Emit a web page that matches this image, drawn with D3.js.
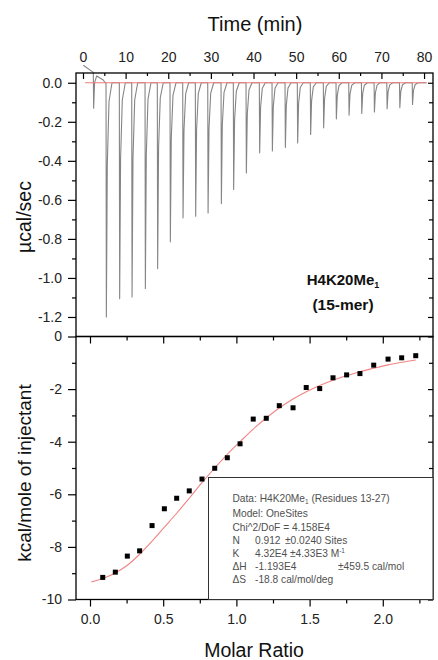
<!DOCTYPE html>
<html>
<head>
<meta charset="utf-8">
<script src="https://cdn.jsdelivr.net/npm/d3@7"></script>
<style>
  body { margin: 0; background: #fff; }
  text { font-family: "Liberation Sans", Arial, Helvetica, sans-serif; }
</style>
</head>
<body>
<svg id="chart" width="438" height="660"></svg>
<script>
// ---- Raw thermogram: injection times (min) and peak heights (µcal/sec) ----
const injTimes = [2.42, 5.40, 8.52, 11.43, 14.55, 17.43, 20.41, 23.39, 26.35, 29.26,
                  32.38, 35.26, 38.24, 41.36, 44.34, 47.39, 50.27, 53.32, 56.37, 59.35,
                  62.33, 65.31, 68.28, 71.26, 74.24, 77.22];
const injPeaks = [-0.130, -1.200, -1.106, -1.097, -1.054, -0.952, -0.815, -0.692, -0.684, -0.667,
                  -0.619, -0.547, -0.462, -0.359, -0.350, -0.331, -0.308, -0.265, -0.231, -0.185,
                  -0.166, -0.157, -0.150, -0.133, -0.128, -0.111];
// initial baseline drift before the first full injection
const driftTimes  = [0.07, 2.42, 4.75, 5.20];
const driftValues = [0.090, 0.053, 0.014, 0.000];

// ---- Integrated heats per injection ----
const molarRatio = [0.087, 0.173, 0.255, 0.339, 0.424, 0.508, 0.592, 0.678, 0.765, 0.852,
                    0.938, 1.025, 1.115, 1.204, 1.293, 1.387, 1.477, 1.569, 1.660, 1.753,
                    1.844, 1.938, 2.036, 2.129, 2.225];
const heat = [-9.16, -8.96, -8.35, -8.15, -7.19, -6.55, -6.15, -5.87, -5.42, -5.01,
              -4.61, -4.08, -3.14, -3.11, -2.63, -2.71, -1.94, -1.98, -1.57, -1.46,
              -1.41, -1.09, -0.86, -0.81, -0.73];

// ---- One-site fit curve ----
const fitRatio = [0.01, 0.087, 0.173, 0.255, 0.339, 0.424, 0.508, 0.592, 0.678, 0.765,
                  0.852, 0.938, 1.025, 1.115, 1.204, 1.293, 1.387, 1.477, 1.569, 1.660,
                  1.753, 1.844, 1.938, 2.036, 2.129, 2.225];
const fitHeat  = [-9.33, -9.20, -8.99, -8.70, -8.28, -7.78, -7.25, -6.72, -6.15, -5.56,
                  -5.00, -4.48, -4.00, -3.52, -3.10, -2.72, -2.38, -2.10, -1.86, -1.66,
                  -1.49, -1.34, -1.21, -1.08, -0.98, -0.89];

// ---- Tick values ----
const timeTicks  = [0, 10, 20, 30, 40, 50, 60, 70, 80];
const timeMinor  = [5, 15, 25, 35, 45, 55, 65, 75];
const powerTicks = [0, -0.2, -0.4, -0.6, -0.8, -1.0, -1.2];
const powerMinor = [-0.1, -0.3, -0.5, -0.7, -0.9, -1.1];
const ratioTicks = [0, 0.5, 1.0, 1.5, 2.0];
const ratioMinor = [0.25, 0.75, 1.25, 1.75, 2.25];
const heatTicks  = [0, -2, -4, -6, -8, -10];
const heatMinor  = [-1, -3, -5, -7, -9];

// ---- Layout ----
const L = 76, R = 433, T1 = 73, MID = 336.5, B2 = 599.5;
const svg = d3.select("#chart");

const xTime  = d3.scaleLinear().domain([-1.64, 82.1]).range([L, R]);
const yPower = d3.scaleLinear().domain([0.05, -1.3]).range([T1, MID]);
const xRatio = d3.scaleLinear().domain([-0.0956, 2.343]).range([L, R]);
const yHeat  = d3.scaleLinear().domain([0, -10]).range([MID, B2]);

function styleAxis(g, fontSize) {
  g.select(".domain").remove();
  g.selectAll(".tick line").attr("stroke", "#000").attr("stroke-width", 1.2);
  g.selectAll(".tick text").attr("font-size", fontSize).attr("fill", "#222")
    .attr("font-family", "'Liberation Sans', Arial, sans-serif");
}
function addAxis(axis, tx, ty, fontSize) {
  const g = svg.append("g").attr("transform", `translate(${tx},${ty})`).call(axis);
  styleAxis(g, fontSize || 14);
  return g;
}
const noLabel = () => "";

// ---- Top panel: thermogram ----
const tracePts = [];
driftTimes.forEach((t, i) => {
  tracePts.push([t, driftValues[i]]);
  if (i === 1) {
    // small first injection riding on the drift
    const p = injPeaks[0];
    tracePts.push([t + 0.08, p], [t + 0.3, p * 0.3 + 0.04], [t + 0.8, 0.035]);
  }
});
injTimes.slice(1).forEach((t, j) => {
  const p = injPeaks[j + 1];
  tracePts.push([t, 0], [t + 0.08, p], [t + 0.3, p * 0.35], [t + 0.7, p * 0.08], [t + 1.4, 0]);
});
tracePts.push([80.6, 0]);

const traceLine = d3.line().x(d => xTime(d[0])).y(d => yPower(d[1]));
svg.append("path").datum(tracePts).attr("d", traceLine)
  .attr("fill", "none").attr("stroke", "#858585").attr("stroke-width", 1.1)
  .attr("stroke-linejoin", "round");

// fitted baseline
svg.append("path").datum([[0.5, 0], [80.5, 0]]).attr("d", traceLine)
  .attr("fill", "none").attr("stroke", "#f07a7a").attr("stroke-width", 1);

// frame
svg.append("rect").attr("x", L).attr("y", T1).attr("width", R - L).attr("height", MID - T1)
  .attr("fill", "none").attr("stroke", "#000").attr("stroke-width", 1.3);

// top time axis: labels outside, ticks inward
addAxis(d3.axisTop(xTime).tickValues(timeTicks).tickSizeInner(-6).tickSizeOuter(0).tickPadding(11)
  .tickFormat(d => String(d)), 0, T1);
addAxis(d3.axisTop(xTime).tickValues(timeMinor).tickSizeInner(-3).tickSizeOuter(0).tickFormat(noLabel), 0, T1);

// left power axis, ticks outward
addAxis(d3.axisLeft(yPower).tickValues(powerTicks).tickSizeInner(8).tickSizeOuter(0).tickPadding(6)
  .tickFormat(d => d.toFixed(1)), L, 0);
addAxis(d3.axisLeft(yPower).tickValues(powerMinor).tickSizeInner(4).tickSizeOuter(0).tickFormat(noLabel), L, 0);

// right power axis, ticks inward
addAxis(d3.axisRight(yPower).tickValues(powerTicks).tickSizeInner(-5).tickSizeOuter(0).tickFormat(noLabel), R, 0);
addAxis(d3.axisRight(yPower).tickValues(powerMinor).tickSizeInner(-4).tickSizeOuter(0).tickFormat(noLabel), R, 0);

// sample label
const lbl = svg.append("text").attr("x", 343).attr("y", 285).attr("text-anchor", "middle")
  .attr("font-size", 15).attr("font-weight", "bold").attr("fill", "#111");
lbl.append("tspan").text("H4K20Me");
lbl.append("tspan").attr("font-size", 9).attr("dy", 3).text("1");
svg.append("text").attr("x", 343).attr("y", 309.5).attr("text-anchor", "middle")
  .attr("font-size", 15.5).attr("font-weight", "bold").attr("fill", "#111").text("(15-mer)");

// ---- Bottom panel: integrated heats ----
svg.append("rect").attr("x", L).attr("y", MID).attr("width", R - L).attr("height", B2 - MID)
  .attr("fill", "none").attr("stroke", "#000").attr("stroke-width", 1.3);

const fitLine = d3.line().x((d, i) => xRatio(fitRatio[i])).y(d => yHeat(d)).curve(d3.curveMonotoneX);
svg.append("path").datum(fitHeat).attr("d", fitLine)
  .attr("fill", "none").attr("stroke", "#f28484").attr("stroke-width", 1.1);

svg.append("g").selectAll("rect").data(heat).join("rect")
  .attr("x", (d, i) => xRatio(molarRatio[i]) - 2.5)
  .attr("y", d => yHeat(d) - 2.5)
  .attr("width", 5).attr("height", 5).attr("fill", "#000");

// bottom ratio axis, ticks outward
addAxis(d3.axisBottom(xRatio).tickValues(ratioTicks).tickSizeInner(7).tickSizeOuter(0).tickPadding(8)
  .tickFormat(d => d.toFixed(1)), 0, B2);
addAxis(d3.axisBottom(xRatio).tickValues(ratioMinor).tickSizeInner(4).tickSizeOuter(0).tickFormat(noLabel), 0, B2);
// mirrored ratio ticks along the shared edge, pointing into the lower panel
addAxis(d3.axisTop(xRatio).tickValues(ratioTicks).tickSizeInner(-7).tickSizeOuter(0).tickFormat(noLabel), 0, MID);
addAxis(d3.axisTop(xRatio).tickValues(ratioMinor).tickSizeInner(-4).tickSizeOuter(0).tickFormat(noLabel), 0, MID);

// left heat axis, ticks outward
addAxis(d3.axisLeft(yHeat).tickValues(heatTicks).tickSizeInner(8).tickSizeOuter(0).tickPadding(6)
  .tickFormat(d => String(d)), L, 0);
addAxis(d3.axisLeft(yHeat).tickValues(heatMinor).tickSizeInner(4).tickSizeOuter(0).tickFormat(noLabel), L, 0);
// right heat axis, ticks inward
addAxis(d3.axisRight(yHeat).tickValues(heatTicks).tickSizeInner(-5).tickSizeOuter(0).tickFormat(noLabel), R, 0);
addAxis(d3.axisRight(yHeat).tickValues(heatMinor).tickSizeInner(-4).tickSizeOuter(0).tickFormat(noLabel), R, 0);

// ---- Fit results box ----
const boxX = 208.5, boxY = 477.5;
svg.append("rect").attr("x", boxX).attr("y", boxY).attr("width", R - boxX).attr("height", B2 - boxY)
  .attr("fill", "#fff").attr("stroke", "#333").attr("stroke-width", 1);

const fs = 10.2, col1 = 232.5, col2 = 255;
function boxText(x, y, s) {
  return svg.append("text").attr("x", x).attr("y", y).attr("font-size", fs).attr("fill", "#505050").text(s);
}
const t1 = svg.append("text").attr("x", col1).attr("y", 502).attr("font-size", fs).attr("fill", "#505050");
t1.append("tspan").text("Data: H4K20Me");
t1.append("tspan").attr("font-size", 6.5).attr("dy", 2).text("1");
t1.append("tspan").attr("dy", -2).text(" (Residues 13-27)");
boxText(col1, 517, "Model: OneSites");
boxText(col1, 531, "Chi^2/DoF = 4.158E4");
boxText(col1, 544, "N");
boxText(col2, 544, "0.912");
boxText(285, 544, "±0.0240 Sites");
boxText(col1, 557, "K");
boxText(col2, 557, "4.32E4");
const tk = boxText(290, 557, "±4.33E3 M");
tk.append("tspan").attr("font-size", 6.5).attr("dy", -4).text("-1");
boxText(col1, 570, "ΔH");
boxText(col2, 570, "-1.193E4");
boxText(338, 570, "±459.5 cal/mol");
boxText(col1, 583, "ΔS");
boxText(col2, 583, "-18.8 cal/mol/deg");

// ---- Axis titles ----
svg.append("text").attr("x", 255).attr("y", 31).attr("text-anchor", "middle")
  .attr("font-size", 20).attr("fill", "#111").text("Time (min)");
svg.append("text").attr("transform", "translate(31,217) rotate(-90)").attr("text-anchor", "middle")
  .attr("font-size", 19.5).attr("fill", "#111").text("µcal/sec");
svg.append("text").attr("transform", "translate(31,473) rotate(-90)").attr("text-anchor", "middle")
  .attr("font-size", 19).attr("fill", "#111").text("kcal/mole of injectant");
svg.append("text").attr("x", 254).attr("y", 657).attr("text-anchor", "middle")
  .attr("font-size", 19.5).attr("fill", "#111").text("Molar Ratio");
</script>
</body>
</html>
